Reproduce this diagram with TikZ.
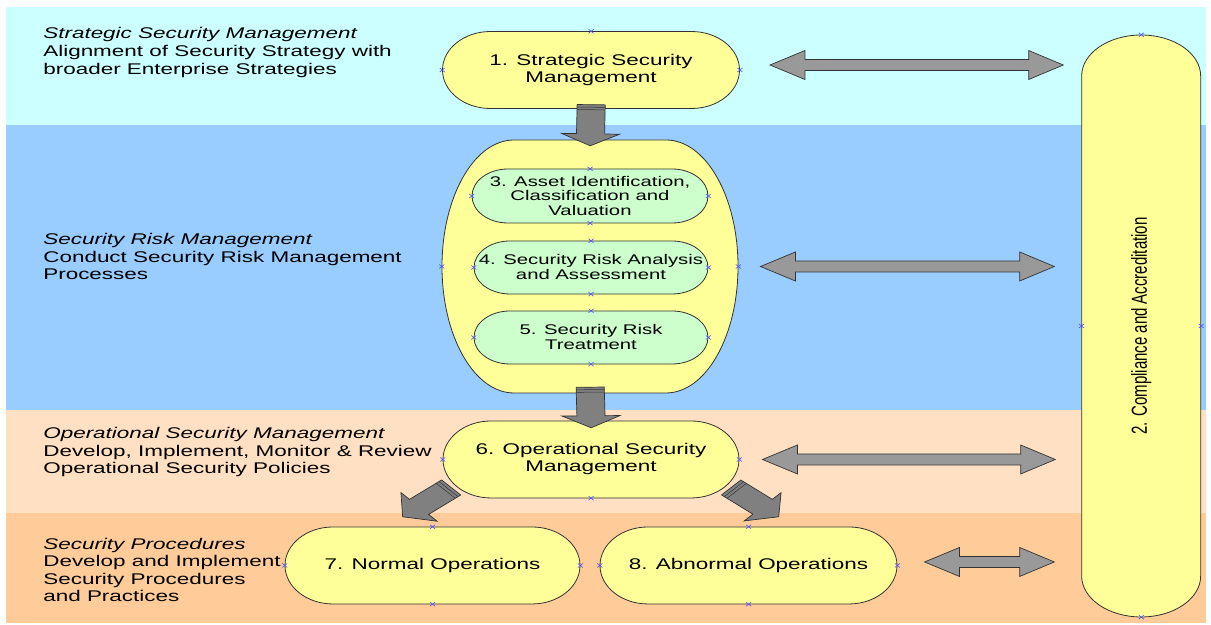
\documentclass[tikz,border=0pt]{standalone}
\usepackage{fontspec}
\setmainfont{Liberation Sans}
\usetikzlibrary{calc}

\definecolor{bandcyan}{HTML}{CCFFFF}
\definecolor{bandblue}{HTML}{99CCFF}
\definecolor{bandpeach}{HTML}{FFE0C2}
\definecolor{bandorange}{HTML}{FFCC99}
\definecolor{pillyellow}{HTML}{FFFF99}
\definecolor{pillgreen}{HTML}{CCFFCC}
\definecolor{edgegray}{HTML}{333333}
\definecolor{arrowgray}{HTML}{808080}
\definecolor{linkgray}{HTML}{999999}
\definecolor{markblue}{HTML}{5050FF}

\tikzset{
  pill edge/.style={draw=edgegray, line width=0.8pt, fill=pillyellow},
  pill text/.style={rectangle, inner sep=0pt, align=center, font=\fontsize{15.5}{17}\selectfont},
  subpill edge/.style={pill edge, fill=pillgreen},
  subpill text/.style={pill text, font=\fontsize{14}{15}\selectfont},
  container edge/.style={pill edge},
  container text/.style={pill text},
  layer/.style={align=left, anchor=base west, inner sep=0pt, font=\fontsize{15.5}{17.6}\selectfont},
  fat/.style={fill=arrowgray, draw=edgegray, line width=0.7pt, line join=miter},
  link/.style={fat, fill=linkgray},
  cpt/.style={draw=markblue, line width=0.6pt},
}

% pill: [kind]{name}{centre}{width}{height}{end radius}{text}
\newcommand\pill[7][pill]{%
  \draw[#1 edge] ($(#3)+({-(#4)/2+(#6)},{-(#5)/2})$) -- ($(#3)+({(#4)/2-(#6)},{-(#5)/2})$)
    arc[start angle=-90, end angle=90, x radius=#6, y radius={(#5)/2}]
    -- ($(#3)+({-(#4)/2+(#6)},{(#5)/2})$)
    arc[start angle=90, end angle=270, x radius=#6, y radius={(#5)/2}] -- cycle;
  \node[#1 text, minimum width={(#4)/1.45}, minimum height=#5] (#2) at (#3) {#7};
}
% fat one-way arrow: [style]{tail}{tip}{half shaft}{half head}{head length}
\newcommand\fatarrow[6][]{%
  \coordinate (ah) at ($(#3)!#6!(#2)$);
  \draw[fat,#1] ($(#2)!#4!90:(#3)$) -- ($(ah)!#4!90:(#3)$) -- ($(ah)!#5!90:(#3)$) -- (#3)
    -- ($(ah)!#5!-90:(#3)$) -- ($(ah)!#4!-90:(#3)$) -- ($(#2)!#4!-90:(#3)$) -- cycle;
  \coordinate (at1) at ($(#2)!2.5pt!(#3)$);
  \coordinate (at2) at ($(#2)!5pt!(#3)$);
  \draw[edgegray, line width=0.5pt] ($(at1)!#4!90:(#3)$) -- ($(at1)!#4!-90:(#3)$)
    ($(at2)!#4!90:(#3)$) -- ($(at2)!#4!-90:(#3)$);
}
% fat two-way arrow: [style]{end a}{end b}{half shaft}{half head}{head length}
\newcommand\linkarrow[6][]{%
  \coordinate (ha) at ($(#2)!#6!(#3)$);
  \coordinate (hb) at ($(#3)!#6!(#2)$);
  \draw[link,#1] (#2) -- ($(ha)!#5!90:(#3)$) -- ($(ha)!#4!90:(#3)$) -- ($(hb)!#4!-90:(#2)$)
    -- ($(hb)!#5!-90:(#2)$) -- (#3) -- ($(hb)!#5!90:(#2)$) -- ($(hb)!#4!90:(#2)$)
    -- ($(ha)!#4!-90:(#3)$) -- ($(ha)!#5!-90:(#3)$) -- cycle;
}

\begin{document}
\begin{tikzpicture}[x=0.6897pt, y=-1pt, xscale=1.45, transform shape]
  \useasboundingbox (0,0) rectangle (1211,625);

  % layers
  \fill[bandcyan] (6,7) rectangle (1206,125);
  \fill[bandblue] (6,125) rectangle (1206,410);
  \fill[bandpeach] (6,410) rectangle (1206,513);
  \fill[bandorange] (6,513) rectangle (1206,623);

  \node[layer] (lvl1) at (43,74) {\textit{Strategic Security Management}\\Alignment of Security Strategy with\\broader Enterprise Strategies};
  \node[layer] (lvl2) at (43,280) {\textit{Security Risk Management}\\Conduct Security Risk Management\\Processes};
  \node[layer] (lvl3) at (43,474) {\textit{Operational Security Management}\\Develop, Implement, Monitor \& Review\\Operational Security Policies};
  \node[layer] (lvl4) at (43,602) {\textit{Security Procedures}\\Develop and Implement\\Security Procedures\\and Practices};

  % processes
  \pill{ssm}{591,70}{297}{77}{48}{1. Strategic Security\\Management}
  \pill[container]{risk}{590,266.5}{296}{253}{72}{}
  \pill[subpill]{asset}{590,196}{236}{54}{36}{3. Asset Identification,\\Classification and\\Valuation}
  \pill[subpill]{analysis}{591,267.5}{234}{53}{36}{4. Security Risk Analysis\\and Assessment}
  \pill[subpill]{treat}{591,337.5}{234}{53}{36}{5. Security Risk\\Treatment}
  \pill{ops}{591,459.5}{296}{77}{48}{6. Operational Security\\Management}
  \pill{normal}{432.5,565.5}{295}{77}{48}{7. Normal Operations}
  \pill{abnormal}{748.5,565.5}{297}{77}{48}{8. Abnormal Operations}

  \coordinate (compc) at (1141,326);
  \draw[pill edge] ($(compc)+(-59.5,-250)$) arc[start angle=180, end angle=360, x radius=59.5, y radius=41]
    -- ($(compc)+(59.5,250)$) arc[start angle=0, end angle=180, x radius=59.5, y radius=41] -- cycle;
  \node[pill text, rotate=90, minimum width=582, minimum height=82.1, font=\fontsize{15}{17}\selectfont] (comp) at (compc) {2. Compliance and Accreditation};

  % connection points
  \foreach \n in {ssm,risk,asset,analysis,treat,ops,normal,abnormal,comp}
    \foreach \a in {north,south,east,west}
      \draw[cpt] (\n.\a) +(-2.5,-2) -- +(2.5,2) +(-2.5,2) -- +(2.5,-2);

  % flow
  \coordinate (d1a) at ($(ssm.south)+(0,-4)$);
  \coordinate (d1b) at ($(risk.north)+(0,6)$);
  \fatarrow{d1a}{d1b}{9.7pt}{20pt}{12pt}
  \coordinate (d2a) at ($(risk.south)+(0,-6)$);
  \coordinate (d2b) at ($(ops.north)+(0,7)$);
  \fatarrow{d2a}{d2b}{9.7pt}{20pt}{12pt}
  \coordinate (l1a) at ($(ops.center)+(-140,28)$);
  \coordinate (l1b) at ($(normal.north)+(-30,-10)$);
  \fatarrow{l1a}{l1b}{10pt}{19pt}{15pt}
  \coordinate (r1a) at ($(ops.center)+(140,28)$);
  \coordinate (r1b) at ($(abnormal.north)+(30,-10)$);
  \fatarrow{r1a}{r1b}{10pt}{19pt}{15pt}

  % links to compliance
  \coordinate (s1a) at ($(ssm.east)+(30,-5)$);
  \coordinate (s1b) at ($(compc |- s1a)+(-78,0)$);
  \linkarrow{s1a}{s1b}{5.5pt}{14.5pt}{24pt}
  \coordinate (s2a) at ($(risk.east)+(22,0)$);
  \coordinate (s2b) at ($(compc |- s2a)+(-87,0)$);
  \linkarrow{s2a}{s2b}{5.5pt}{14.5pt}{24pt}
  \coordinate (s3a) at ($(ops.east)+(23,0)$);
  \coordinate (s3b) at ($(compc |- s3a)+(-86,0)$);
  \linkarrow{s3a}{s3b}{5.5pt}{14.5pt}{24pt}
  \coordinate (s4a) at ($(abnormal.east)+(27,-3.5)$);
  \coordinate (s4b) at ($(compc |- s4a)+(-87,0)$);
  \linkarrow{s4a}{s4b}{5.5pt}{14.5pt}{24pt}
\end{tikzpicture}
\end{document}
